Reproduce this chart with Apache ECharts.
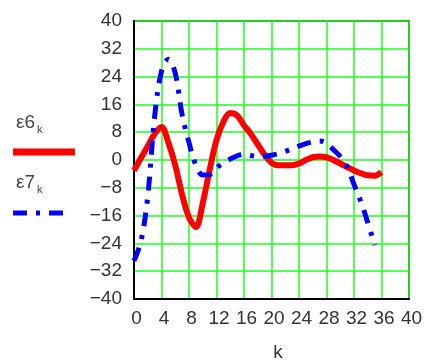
<!DOCTYPE html>
<html lang="en">
<head>
  <meta charset="UTF-8">
  <title>Result</title>
  <style>
    html,
    body {
      padding: 0;
      margin: 0;
    }
  </style>
  <script src="https://cdn.jsdelivr.net/npm/echarts@6.0.0/dist/echarts.min.js"></script>
</head>
<body>
  <div id="demo" style="width:424px;height:361px"></div>
  <script>
    // k runs 0..36, eps7 stops at k = 35
    const kValues = [0, 1, 2, 3, 4, 5, 6, 7, 8, 9, 10, 11, 12, 13, 14, 15, 16, 17, 18,
      19, 20, 21, 22, 23, 24, 25, 26, 27, 28, 29, 30, 31, 32, 33, 34, 35, 36]
    const eps6 = [-3, 0.5, 4, 7.5, 9.5, 5, -1.5, -10, -16.5, -19.3, -12.4, -2.9, 5.8, 11, 13.5, 12.8,
      10, 7.5, 4.5, 1.5, -0.8, -1.5, -1.5, -1.5, -1, 0, 0.8, 1, 0.8, 0, -1, -2, -3, -3.8, -4.4, -4.5, -3.5]
    const eps7 = [-29, -23.5, -10.5, 12.5, 25.5, 29, 25, 13, 5, -1.5, -4.3, -4.2, -2.3, -0.8, 0.3, 1.2,
      1.7, 1.3, 1, 1.1, 1.4, 1.8, 2.5, 3.2, 4, 4.7, 5.2, 5.5, 4.8, 3, 1, -2, -7, -12, -18, -24.5]
    const xTicks = { min: 0, max: 40, interval: 4 }
    const yTicks = { min: -40, max: 40, interval: 8 }

    const font = 'Liberation Sans'
    const chart = echarts.init(document.getElementById('demo'))

    const option = {
      animation: false,
      grid: {
        left: 134,
        right: 15,
        top: 21,
        bottom: 62,
        outerBoundsMode: 'none',
        show: true,
        borderColor: '#000',
        borderWidth: 1.5
      },
      xAxis: {
        type: 'value',
        min: xTicks.min,
        max: xTicks.max,
        interval: xTicks.interval,
        name: 'k',
        nameLocation: 'middle',
        nameGap: 44,
        nameTextStyle: { fontSize: 19, color: '#333', fontFamily: font, padding: [0, 0, 0, 13] },
        axisLine: { onZero: false, lineStyle: { color: '#000', width: 2 } },
        axisTick: { show: false },
        axisLabel: { fontSize: 19, color: '#333', fontFamily: font, margin: 10, padding: [0, 0, 0, 5] },
        splitLine: { show: true, lineStyle: { color: '#1aff1a', width: 1.5 } }
      },
      yAxis: {
        type: 'value',
        min: yTicks.min,
        max: yTicks.max,
        interval: yTicks.interval,
        axisLine: { show: true, onZero: false, lineStyle: { color: '#000', width: 2 } },
        axisTick: { show: false },
        axisLabel: {
          fontSize: 19,
          color: '#333',
          fontFamily: font,
          margin: 12,
          formatter: v => String(v).replace('-', '\u2212')
        },
        splitLine: { show: true, lineStyle: { color: '#1aff1a', width: 1.5 } }
      },
      series: [
        {
          name: 'eps6',
          type: 'line',
          smooth: 0.35,
          showSymbol: false,
          data: eps6.map((v, i) => [kValues[i], v]),
          lineStyle: { color: '#ff0000', width: 6 },
          z: 3
        },
        {
          name: 'eps7',
          type: 'line',
          smooth: 0.35,
          showSymbol: false,
          data: eps7.map((v, i) => [kValues[i], v]),
          lineStyle: { color: '#0000ff', width: 5, type: [14, 9, 4, 9], cap: 'butt' },
          z: 4
        }
      ],
      graphic: [
        { type: 'text', left: 16, top: 113, style: { text: 'ε6', fontSize: 19, fill: '#444', fontFamily: font } },
        { type: 'text', left: 37, top: 124, style: { text: 'k', fontSize: 11, fill: '#444', fontFamily: font } },
        { type: 'line', shape: { x1: 13, y1: 152, x2: 75, y2: 152 }, style: { stroke: '#ff0000', lineWidth: 7 } },
        { type: 'text', left: 16, top: 173, style: { text: 'ε7', fontSize: 19, fill: '#444', fontFamily: font } },
        { type: 'text', left: 37, top: 184, style: { text: 'k', fontSize: 11, fill: '#444', fontFamily: font } },
        {
          type: 'line',
          shape: { x1: 13, y1: 213, x2: 67, y2: 213 },
          style: { stroke: '#0000ff', lineWidth: 5, lineDash: [14, 9, 4, 9] }
        }
      ]
    }
    chart.setOption(option)
  </script>
</body>
</html>
